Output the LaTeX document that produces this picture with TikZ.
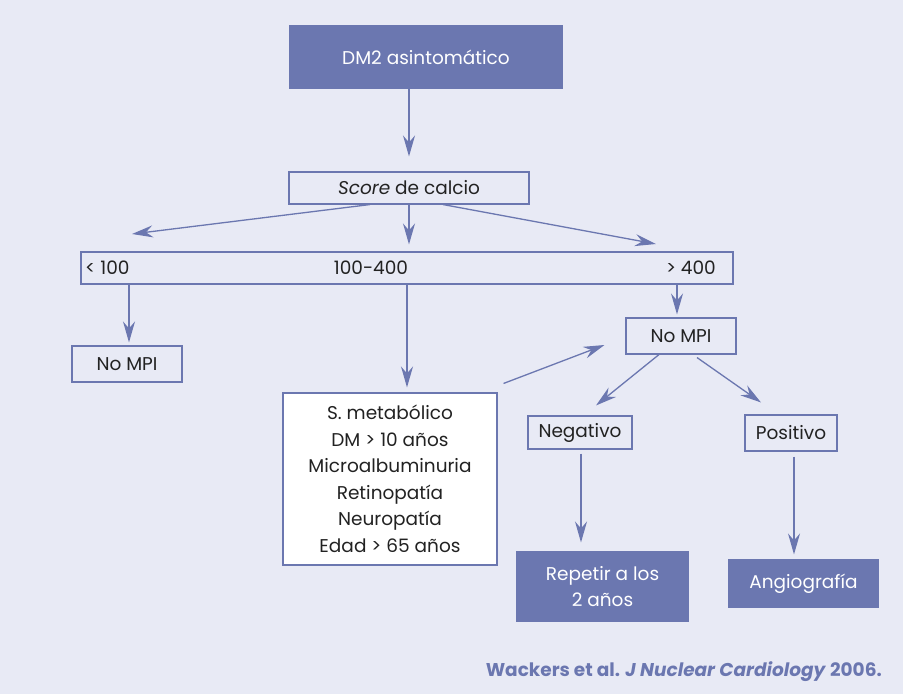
\documentclass[tikz,border=0pt]{standalone}
\usepackage{fontspec}
\setmainfont{Poppins}
\usetikzlibrary{arrows.meta}
\definecolor{bgpanel}{HTML}{E8EAF5}
\definecolor{flowblue}{HTML}{6B77B0}
\definecolor{inktext}{HTML}{222222}
\tikzset{
  base/.style={draw=flowblue, line width=1.1pt, inner sep=0pt, align=center,
    text=inktext, font=\fontsize{18.5}{26.5}\selectfont},
  plainbox/.style={base, fill=bgpanel},
  whitebox/.style={base, fill=white},
  darkbox/.style={base, fill=flowblue, text=white},
  arr/.style={draw=flowblue, line width=1.3pt,
    -{Stealth[length=21pt, width=12pt, inset=7pt]}},
  lbl/.style={inner sep=0pt, text=inktext, font=\fontsize{18.5}{26.5}\selectfont}
}
\begin{document}
\begin{tikzpicture}[x=1pt, y=-1pt]
  % panel
  \fill[bgpanel] (0,0) rectangle (903,694);
  \useasboundingbox (0,0) rectangle (903,694);

  % boxes
  \node[darkbox, minimum width=272pt, minimum height=62pt] (top) at (426,57) {DM2 asintomático};
  \node[plainbox, minimum width=240pt, minimum height=32pt] (score) at (409,188) {\textit{Score} de calcio};
  \node[plainbox, minimum width=652pt, minimum height=32pt] (bar) at (407,268) {};
  \node[lbl, anchor=west] (lo) at (85,268) {< 100};
  \node[lbl] (mid) at (371,268) {100-400};
  \node[lbl, anchor=east] (hi) at (716,268) {> 400};
  \node[plainbox, minimum width=110pt, minimum height=36pt] (nompiL) at (127,364) {No MPI};
  \node[whitebox, minimum width=214pt, minimum height=172pt] (risk) at (390,479)
    {S. metabólico\\DM > 10 años\\Microalbuminuria\\Retinopatía\\Neuropatía\\Edad > 65 años};
  \node[plainbox, minimum width=110pt, minimum height=36pt] (nompiR) at (681,336) {No MPI};
  \node[plainbox, minimum width=104pt, minimum height=33pt] (neg) at (580,432.5) {Negativo};
  \node[plainbox, minimum width=92pt, minimum height=36pt] (pos) at (791,433) {Positivo};
  \node[darkbox, minimum width=171pt, minimum height=69pt] (rep) at (602.5,586.5) {Repetir a los\\2 años};
  \node[darkbox, minimum width=149pt, minimum height=47pt] (angio) at (803.5,583.5) {Angiografía};

  % free arrow ends
  \coordinate (tipL) at (132,234);
  \coordinate (tipR) at (656,244);

  % connectors
  \draw[arr, shorten >=15pt] (score.north |- top.south) -- (score.north);
  \draw[arr] ([xshift=-39pt]score.south) -- (tipL);
  \draw[arr, shorten >=7pt] (score.south) -- (score.south |- bar.north);
  \draw[arr] ([xshift=34pt]score.south) -- (tipR);
  \draw[arr, shorten >=3pt] ([xshift=2pt]nompiL.north |- bar.south) -- ([xshift=2pt]nompiL.north);
  \draw[arr, shorten >=5pt] (bar.south) -- (bar.south |- risk.north);
  \draw[arr, shorten >=3pt] ([xshift=-4pt]nompiR.north |- bar.south) -- ([xshift=-4pt]nompiR.north);
  \draw[arr] ([shift={(6,-9)}]risk.north east) -- ([shift={(-21,9)}]nompiR.west);
  \draw[arr] ([xshift=-22pt]nompiR.south) -- ([shift={(16,-10)}]neg.north);
  \draw[arr] ([shift={(16,3)}]nompiR.south) -- ([shift={(-30,-12)}]pos.north);
  \draw[arr, shorten <=4pt, shorten >=9pt] ([xshift=1pt]neg.south) -- ([xshift=1pt]neg.south |- rep.north);
  \draw[arr, shorten <=5pt, shorten >=5pt] ([xshift=3pt]pos.south) -- ([xshift=3pt]pos.south |- angio.north);

  % reference line
  \node[inner sep=0pt, anchor=base east, text=flowblue, font=\fontsize{18.5}{22}\selectfont\bfseries] (cite) at (882,676)
    {Wackers et al. \textit{J Nuclear Cardiology} 2006.};
\end{tikzpicture}
\end{document}
